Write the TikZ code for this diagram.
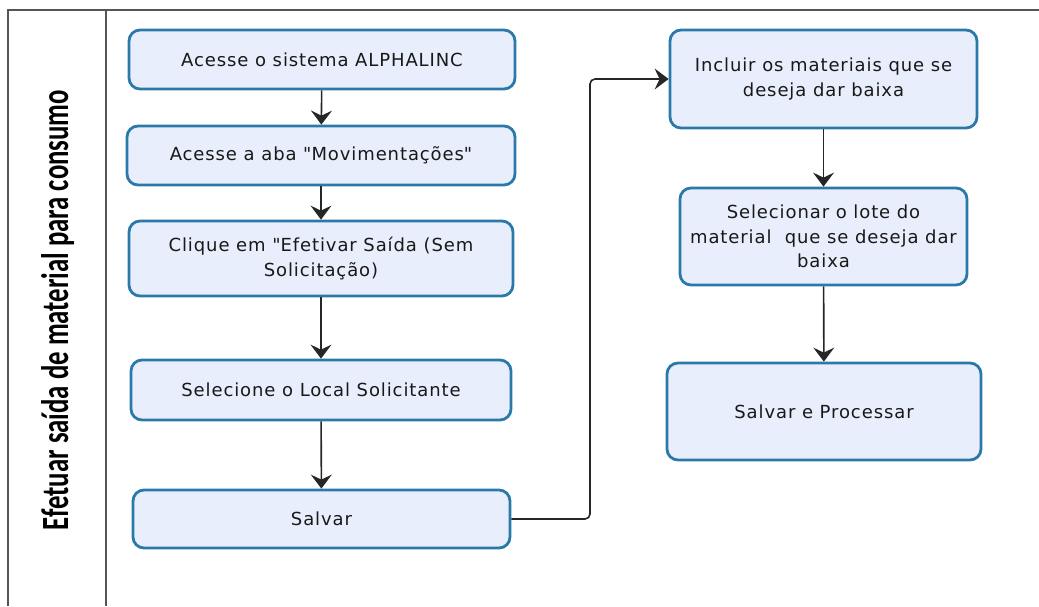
\documentclass[tikz,border=0pt]{standalone}
\usepackage{fontspec}
\usepackage{graphicx}
\setmainfont{DejaVu Sans}[LetterSpace=5]
\newfontfamily\lanefont{Carlito}
\usetikzlibrary{arrows.meta}
\definecolor{boxfill}{HTML}{E9EEFC}
\definecolor{boxline}{HTML}{2A79A9}
\definecolor{poolline}{HTML}{555555}
\tikzset{%
    block/.style = {draw=boxline, fill=boxfill, line width=2.8pt, rectangle, rounded corners=11pt,
                    align=center, inner sep=0pt, text=black!90,
                    font=\fontsize{18}{24.5}\selectfont},
    flow/.style = {->, line width=1.6pt, draw=black!85},
}

\begin{document}
\begin{tikzpicture}[x=1pt, y=-1pt, auto, >={Stealth[length=14pt,width=21pt,inset=5pt]}]
        \useasboundingbox (0,0) rectangle (1039,606);
        % pool and lane
        \draw[poolline, line width=1.8pt] (8,606) -- (8,10) -- (1039,10);
        \draw[poolline, line width=1.8pt] (106,10) -- (106,606);
        \node[rotate=90, anchor=base] (lane) at (68,310)
            {\resizebox{440pt}{27pt}{\lanefont\bfseries Efetuar saída de material para consumo}};

        \draw
            node at (322,59.5) [block, minimum width=386pt, minimum height=59pt] (sistema)
            {Acesse o sistema ALPHALINC}
            node at (321,155.5) [block, minimum width=388pt, minimum height=59pt] (aba)
            {Acesse a aba \textquotedbl Movimentações\textquotedbl}
            node at (321,258.5) [block, minimum width=384pt, minimum height=75pt] (saida)
            {Clique em \textquotedbl Efetivar Saída (Sem\\ Solicitação)}
            node at (321,390) [block, minimum width=380pt, minimum height=60pt] (local)
            {Selecione o Local Solicitante}
            node at (321.5,519) [block, minimum width=377pt, minimum height=58pt] (salvar)
            {Salvar}
            node at (823.5,79) [block, minimum width=307pt, minimum height=98pt] (incluir)
            {Incluir os materiais que se\\ deseja dar baixa}
            node at (823.5,236.5) [block, minimum width=287pt, minimum height=97pt] (lote)
            {Selecionar o lote do\\ material\ \ que se deseja dar\\ baixa}
            node at (824,411.5) [block, minimum width=314pt, minimum height=97pt] (processar)
            {Salvar e Processar};

        \draw[flow] (sistema) -- (aba);
        \draw[flow] (aba) -- (saida);
        \draw[flow] (saida) -- (local);
        \draw[flow] (local) -- (salvar);
        \draw[flow, rounded corners=5pt] (salvar.east) -| (590,79) -- (incluir.west);
        \draw[flow] (incluir) -- (lote);
        \draw[flow] (lote) -- (processar);
    \end{tikzpicture}
\end{document}
